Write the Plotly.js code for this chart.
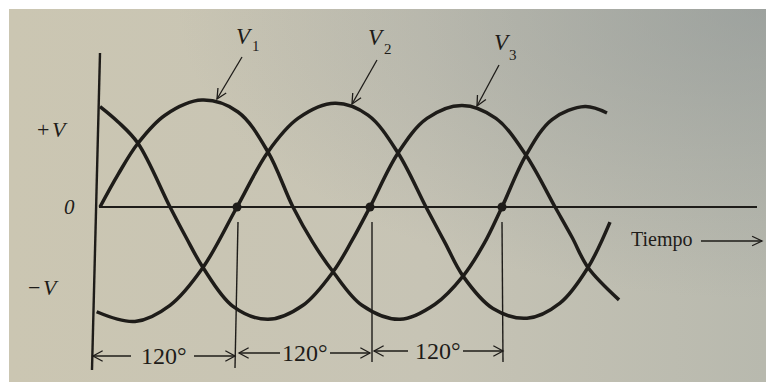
<!DOCTYPE html>
<html>
<head>
<meta charset="utf-8">
<script src="https://cdn.plot.ly/plotly-3.0.1.min.js"></script>
<style>
  html, body { margin:0; padding:0; background:#ffffff; }
  #wrap { position:relative; width:766px; height:383px; background:#ffffff; overflow:hidden; }
  #photo { position:absolute; left:9px; top:9px; width:757px; height:373px;
    background:
      radial-gradient(ellipse at 100% 0%, rgba(135,143,145,0.55) 0%, rgba(135,143,145,0) 55%),
      linear-gradient(to right, #cbc6b2 0%, #c7c4b5 55%, #b8b9ae 100%); }
  #chart { position:absolute; left:0; top:0; width:766px; height:383px; }
</style>
</head>
<body>
<div id="wrap"><div id="photo"></div><div id="chart"></div></div>
<script>
// ---- Data (angle in degrees, voltage relative to V) ----
const v1Angle = [0, 16.1, 34.0, 58.2, 91.3, 123.6, 150.4, 172.8, 190.7, 208.7, 234.6, 268.7, 300.0, 325.1, 343.9, 360, 381.5, 404.8, 434.3, 454.0];
const v1Value = [0, 0.30, 0.59, 0.85, 0.99, 0.88, 0.51, 0, -0.33, -0.60, -0.91, -1.04, -0.90, -0.64, -0.34, 0, 0.48, 0.81, 0.93, 0.87];

const v2Angle = [-3, 31.3, 62.7, 92.2, 122.7, 150.4, 177.3, 210.4, 240.0, 266.9, 291.9, 308.9, 325.1, 351.9, 382.4, 411.9, 437.0, 456.7];
const v2Value = [-0.97, -1.06, -0.91, -0.56, 0, 0.51, 0.82, 0.96, 0.85, 0.50, 0, -0.33, -0.64, -0.94, -1.03, -0.89, -0.56, -0.14];

const v3Angle = [0, 16.0, 34.0, 62.7, 77.0, 92.2, 119.1, 150.4, 181.8, 208.7, 225.7, 241.8, 266.9, 292.8, 324.2, 354.6, 381.5, 407.5, 422.7, 437.0, 464.8];
const v3Value = [0.93, 0.79, 0.59, 0, -0.28, -0.56, -0.92, -1.04, -0.91, -0.60, -0.31, 0, 0.50, 0.82, 0.94, 0.82, 0.48, 0, -0.28, -0.56, -0.86];

const dotAngle = [122.7, 241.8, 360];
const dotValue = [0, 0, 0];

const seriesLetter = "V";
const seriesSubs = ["1", "2", "3"];
const yLabelSigns = ["+", "\u2212"];
const zeroLabel = "0";
const phaseLabel = "120\u00b0";
const timeLabel = "Tiempo";

// ---- Layout helpers (pixel -> paper) ----
const W = 766, H = 383;
const px = x => x / W;
const py = y => 1 - y / H;
const ink = '#1e1c19';
const serif = 'Liberation Serif, Times New Roman, serif';

const shapes = [];
function seg(x0, y0, x1, y1, w) {
  shapes.push({type:'line', xref:'paper', yref:'paper', x0:px(x0), y0:py(y0), x1:px(x1), y1:py(y1),
    line:{color:ink, width:w}});
}
function head(xt, yt, xf, yf, len, ang, w) {
  const dx = xt - xf, dy = yt - yf, d = Math.hypot(dx, dy);
  const ux = dx / d, uy = dy / d;
  const c = Math.cos(ang), s = Math.sin(ang);
  const ax = xt - len * (ux * c - uy * s), ay = yt - len * (uy * c + ux * s);
  const bx = xt - len * (ux * c + uy * s), by = yt - len * (uy * c - ux * s);
  shapes.push({type:'path', xref:'paper', yref:'paper',
    path:`M${px(ax)},${py(ay)} L${px(xt)},${py(yt)} L${px(bx)},${py(by)}`,
    line:{color:ink, width:w}});
}
function arrow(xf, yf, xt, yt, w, len, ang) {
  seg(xf, yf, xt, yt, w);
  head(xt, yt, xf, yf, len, ang, w);
}

// axes
seg(100, 53, 92, 370, 2.4);
seg(99, 207, 757, 207, 2.2);
// drop lines
seg(238, 222, 235, 368, 1.4);
seg(372, 222, 372, 362, 1.4);
seg(502, 222, 503, 362, 1.4);
// dimension arrows
arrow(131, 356, 93, 356, 1.3, 11, 0.5);
arrow(194, 356, 235, 356, 1.3, 11, 0.5);
arrow(280, 353, 239, 353, 1.3, 11, 0.5);
arrow(330, 353, 370, 353, 1.3, 11, 0.5);
arrow(408, 351, 374, 351, 1.3, 11, 0.5);
arrow(463, 351, 503, 351, 1.3, 11, 0.5);
// label arrows
arrow(242, 57, 217, 99, 1.3, 11, 0.45);
arrow(377, 60, 352, 104, 1.3, 11, 0.45);
arrow(499, 65, 477, 106, 1.3, 11, 0.45);
// time arrow
arrow(701, 241, 762, 241, 1.3, 11, 0.45);

const annotations = [];
function txt(text, x, y, size, italic) {
  annotations.push({text:text, xref:'paper', yref:'paper', x:px(x), y:py(y),
    xanchor:'center', yanchor:'middle', showarrow:false,
    font:{family:serif, size:size, color:ink, style: italic ? 'italic' : 'normal'}});
}
// y-axis labels
txt(yLabelSigns[0], 43, 130, 22, false);
txt(seriesLetter, 60, 130, 22, true);
txt(zeroLabel, 69, 207, 21, true);
txt(yLabelSigns[1], 34, 287, 22, false);
txt(seriesLetter, 51, 287, 22, true);
// series labels with subscripts
txt(seriesLetter, 244, 36, 23, true);  txt(seriesSubs[0], 256, 46, 15, false);
txt(seriesLetter, 376, 37, 23, true);  txt(seriesSubs[1], 388, 49, 15, false);
txt(seriesLetter, 502, 42, 23, true);  txt(seriesSubs[2], 513, 55, 15, false);
// time label & phase labels
txt(timeLabel, 662, 239, 20, false);
txt(phaseLabel, 164, 356, 24, false);
txt(phaseLabel, 305, 353, 24, false);
txt(phaseLabel, 438, 351, 24, false);

const lineStyle = {color:ink, width:3.5, shape:'spline', smoothing:1};
const traces = [
  {x:v1Angle, y:v1Value, name:'V1', mode:'lines', line:lineStyle, hoverinfo:'skip'},
  {x:v2Angle, y:v2Value, name:'V2', mode:'lines', line:lineStyle, hoverinfo:'skip'},
  {x:v3Angle, y:v3Value, name:'V3', mode:'lines', line:lineStyle, hoverinfo:'skip'},
  {x:dotAngle, y:dotValue, mode:'markers', marker:{color:ink, size:9}, hoverinfo:'skip'}
];

// x_px = 100 + 1.1167*angle ; y_px = 207 - 108*value
const layout = {
  width:W, height:H,
  margin:{l:0, r:0, t:0, b:0, pad:0},
  paper_bgcolor:'rgba(0,0,0,0)', plot_bgcolor:'rgba(0,0,0,0)',
  showlegend:false,
  xaxis:{range:[-100/1.1167, (W - 100)/1.1167], visible:false, fixedrange:true},
  yaxis:{range:[(207 - H)/108, 207/108], visible:false, fixedrange:true},
  shapes:shapes,
  annotations:annotations
};
Plotly.newPlot('chart', traces, layout, {displayModeBar:false, staticPlot:true});
</script>
</body>
</html>
